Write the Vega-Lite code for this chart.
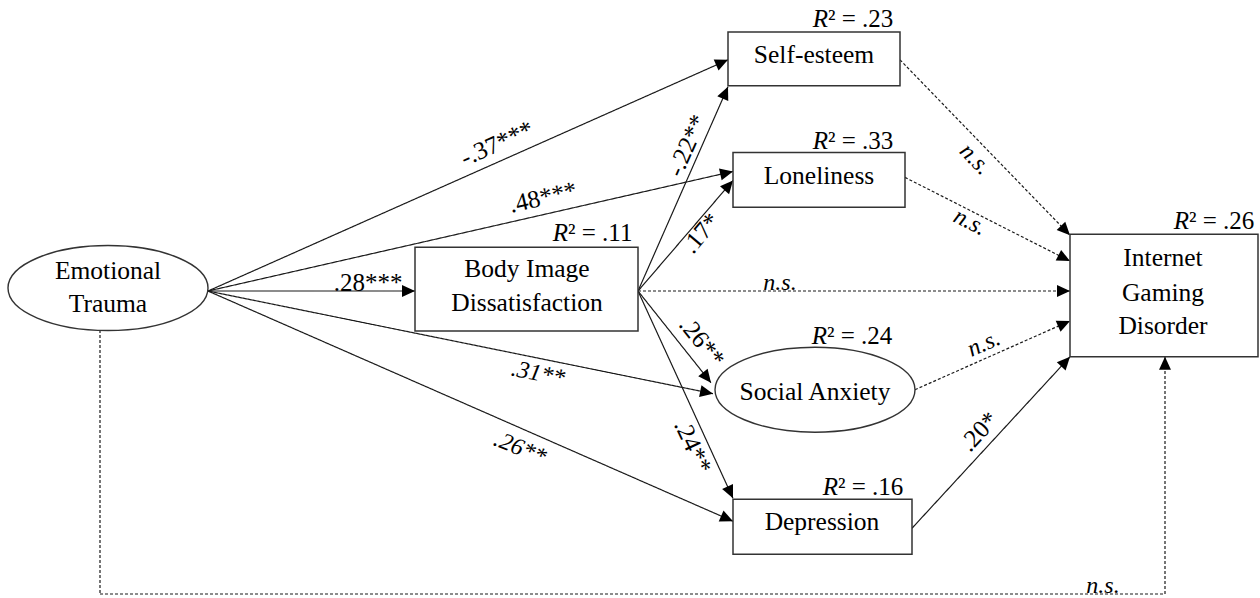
{
  "$schema": "https://vega.github.io/schema/vega-lite/v6.json",
  "width": 1260,
  "height": 598,
  "autosize": {"type": "fit", "contains": "padding"},
  "padding": 0,
  "background": "white",
  "config": {"view": {"stroke": null}},
  "datasets": {
    "segments": [
      {"id": "ET-SE", "x": 208, "y": 292, "x2": 728, "y2": 60, "line": "solid", "head": 1, "angle": -24.0},
      {"id": "ET-LO", "x": 208, "y": 292, "x2": 733, "y2": 172, "line": "solid", "head": 1, "angle": -12.9},
      {"id": "ET-BI", "x": 208, "y": 292, "x2": 415, "y2": 292, "line": "solid", "head": 1, "angle": 0},
      {"id": "ET-SA", "x": 208, "y": 292, "x2": 713, "y2": 395, "line": "solid", "head": 1, "angle": 11.5},
      {"id": "ET-DE", "x": 208, "y": 292, "x2": 733, "y2": 523, "line": "solid", "head": 1, "angle": 23.7},
      {"id": "BI-SE", "x": 638, "y": 292, "x2": 728, "y2": 87, "line": "solid", "head": 1, "angle": -66.3},
      {"id": "BI-LO", "x": 638, "y": 292, "x2": 733, "y2": 181, "line": "solid", "head": 1, "angle": -49.4},
      {"id": "BI-IGD", "x": 638, "y": 292, "x2": 1070, "y2": 292, "line": "dashed", "head": 1, "angle": 0},
      {"id": "BI-SA", "x": 638, "y": 292, "x2": 711, "y2": 384, "line": "solid", "head": 1, "angle": 51.6},
      {"id": "BI-DE", "x": 638, "y": 292, "x2": 733, "y2": 500, "line": "solid", "head": 1, "angle": 65.4},
      {"id": "SE-IGD", "x": 900, "y": 60, "x2": 1070, "y2": 236, "line": "dashed", "head": 1, "angle": 46.0},
      {"id": "LO-IGD", "x": 905, "y": 178, "x2": 1070, "y2": 262, "line": "dashed", "head": 1, "angle": 27.0},
      {"id": "SA-IGD", "x": 915, "y": 391, "x2": 1070, "y2": 322, "line": "dashed", "head": 1, "angle": -24.0},
      {"id": "DE-IGD", "x": 912, "y": 530, "x2": 1070, "y2": 358, "line": "solid", "head": 1, "angle": -47.4},
      {"id": "ET-IGD-1", "x": 100, "y": 331, "x2": 100, "y2": 596, "line": "dashed", "head": 0, "angle": 90},
      {"id": "ET-IGD-2", "x": 100, "y": 596, "x2": 1165, "y2": 596, "line": "dashed", "head": 0, "angle": 0},
      {"id": "ET-IGD-3", "x": 1165, "y": 596, "x2": 1165, "y2": 358, "line": "dashed", "head": 1, "angle": -90}
    ],
    "boxes": [
      {"node": "Body Image Dissatisfaction", "x": 415, "x2": 638, "y": 248, "y2": 332},
      {"node": "Self-esteem", "x": 728, "x2": 900, "y": 32, "y2": 86},
      {"node": "Loneliness", "x": 733, "x2": 905, "y": 153, "y2": 208},
      {"node": "Internet Gaming Disorder", "x": 1070, "x2": 1258, "y": 235, "y2": 358},
      {"node": "Depression", "x": 733, "x2": 912, "y": 501, "y2": 556}
    ],
    "ovals": [
      {"node": "Emotional Trauma", "x": 108, "y": 289},
      {"node": "Social Anxiety", "x": 815, "y": 391}
    ],
    "nodeText": [
      {"t": "Emotional", "x": 108, "y": 280},
      {"t": "Trauma", "x": 108, "y": 313},
      {"t": "Body Image", "x": 527, "y": 278},
      {"t": "Dissatisfaction", "x": 527, "y": 312},
      {"t": "Self-esteem", "x": 814, "y": 63},
      {"t": "Loneliness", "x": 819, "y": 185},
      {"t": "Internet", "x": 1163, "y": 267},
      {"t": "Gaming", "x": 1163, "y": 302},
      {"t": "Disorder", "x": 1163, "y": 335},
      {"t": "Social Anxiety", "x": 815, "y": 401},
      {"t": "Depression", "x": 822, "y": 532}
    ],
    "r2": [
      {"x": 568, "y": 242, "v": "² = .11"},
      {"x": 828, "y": 27, "v": "² = .23"},
      {"x": 828, "y": 150, "v": "² = .33"},
      {"x": 1189, "y": 230, "v": "² = .26"},
      {"x": 827, "y": 345, "v": "² = .24"},
      {"x": 838, "y": 497, "v": "² = .16"}
    ],
    "labels": [
      {"t": "-.37***", "x": 497, "y": 144, "angle": -24, "italic": 0},
      {"t": ".48***", "x": 543, "y": 198, "angle": -13, "italic": 0},
      {"t": ".28***", "x": 368, "y": 284, "angle": 0, "italic": 0},
      {"t": "-.22**", "x": 687, "y": 146, "angle": -66, "italic": 0},
      {"t": ".17*", "x": 701, "y": 234, "angle": -50, "italic": 0},
      {"t": ".26**", "x": 702, "y": 343, "angle": 51, "italic": 0},
      {"t": ".24**", "x": 693, "y": 448, "angle": 65, "italic": 0},
      {"t": ".20*", "x": 979, "y": 433, "angle": -47, "italic": 0},
      {"t": ".31**", "x": 538, "y": 375, "angle": 11.5, "italic": 1},
      {"t": ".26**", "x": 520, "y": 450, "angle": 22, "italic": 1},
      {"t": "n.s.", "x": 780, "y": 284, "angle": 0, "italic": 1},
      {"t": "n.s.", "x": 975, "y": 160, "angle": 46, "italic": 1},
      {"t": "n.s.", "x": 970, "y": 223, "angle": 27, "italic": 1},
      {"t": "n.s.", "x": 984, "y": 345, "angle": -24, "italic": 1},
      {"t": "n.s.", "x": 1103, "y": 588, "angle": 0, "italic": 1}
    ]
  },
  "layer": [
    {
      "data": {"name": "segments"},
      "mark": {"type": "rule", "stroke": "#1a1a1a", "strokeWidth": 1.2},
      "encoding": {
        "x": {"field": "x", "type": "quantitative", "scale": {"domain": [0, 1260], "nice": false, "zero": false}, "axis": null},
        "y": {"field": "y", "type": "quantitative", "scale": {"domain": [0, 598], "reverse": true, "nice": false, "zero": false}, "axis": null},
        "x2": {"field": "x2"},
        "y2": {"field": "y2"},
        "strokeDash": {"field": "line", "type": "nominal", "scale": {"domain": ["solid", "dashed"], "range": [[1, 0], [3, 2]]}, "legend": null}
      }
    },
    {
      "data": {"name": "segments"},
      "transform": [{"filter": "datum.head == 1"}],
      "mark": {"type": "point", "shape": "M0,0 L-1,-0.46 L-1,0.46 Z", "filled": true, "fill": "#000", "strokeWidth": 0, "opacity": 1, "size": 676},
      "encoding": {
        "x": {"field": "x2", "type": "quantitative"},
        "y": {"field": "y2", "type": "quantitative"},
        "angle": {"field": "angle", "type": "quantitative", "scale": null}
      }
    },
    {
      "data": {"name": "boxes"},
      "mark": {"type": "rect", "fill": "white", "stroke": "#333", "strokeWidth": 1.5},
      "encoding": {
        "x": {"field": "x", "type": "quantitative"},
        "x2": {"field": "x2"},
        "y": {"field": "y", "type": "quantitative"},
        "y2": {"field": "y2"}
      }
    },
    {
      "data": {"name": "ovals"},
      "mark": {"type": "point", "shape": "M1,0 C1,0.2347 0.5523,0.425 0,0.425 C-0.5523,0.425 -1,0.2347 -1,0 C-1,-0.2347 -0.5523,-0.425 0,-0.425 C0.5523,-0.425 1,-0.2347 1,0 Z", "filled": false, "fill": "white", "fillOpacity": 1, "stroke": "#333", "strokeWidth": 1.4, "opacity": 1, "size": 40000},
      "encoding": {
        "x": {"field": "x", "type": "quantitative"},
        "y": {"field": "y", "type": "quantitative"}
      }
    },
    {
      "data": {"name": "nodeText"},
      "mark": {"type": "text", "font": "Liberation Serif", "fontSize": 25.5, "align": "center", "baseline": "alphabetic", "fill": "#000"},
      "encoding": {
        "x": {"field": "x", "type": "quantitative"},
        "y": {"field": "y", "type": "quantitative"},
        "text": {"field": "t"}
      }
    },
    {
      "data": {"name": "r2"},
      "mark": {"type": "text", "font": "Liberation Serif", "fontSize": 25, "fontStyle": "italic", "align": "right", "baseline": "alphabetic", "fill": "#000"},
      "encoding": {
        "x": {"field": "x", "type": "quantitative"},
        "y": {"field": "y", "type": "quantitative"},
        "text": {"value": "R"}
      }
    },
    {
      "data": {"name": "r2"},
      "mark": {"type": "text", "font": "Liberation Serif", "fontSize": 25, "align": "left", "baseline": "alphabetic", "fill": "#000"},
      "encoding": {
        "x": {"field": "x", "type": "quantitative"},
        "y": {"field": "y", "type": "quantitative"},
        "text": {"field": "v"}
      }
    },
    {
      "data": {"name": "labels"},
      "transform": [{"filter": "datum.italic == 0"}],
      "mark": {"type": "text", "font": "Liberation Serif", "fontSize": 25, "align": "center", "baseline": "middle", "fill": "#000"},
      "encoding": {
        "x": {"field": "x", "type": "quantitative"},
        "y": {"field": "y", "type": "quantitative"},
        "angle": {"field": "angle", "type": "quantitative", "scale": null},
        "text": {"field": "t"}
      }
    },
    {
      "data": {"name": "labels"},
      "transform": [{"filter": "datum.italic == 1"}],
      "mark": {"type": "text", "font": "Liberation Serif", "fontSize": 24, "fontStyle": "italic", "align": "center", "baseline": "middle", "fill": "#000"},
      "encoding": {
        "x": {"field": "x", "type": "quantitative"},
        "y": {"field": "y", "type": "quantitative"},
        "angle": {"field": "angle", "type": "quantitative", "scale": null},
        "text": {"field": "t"}
      }
    }
  ]
}
